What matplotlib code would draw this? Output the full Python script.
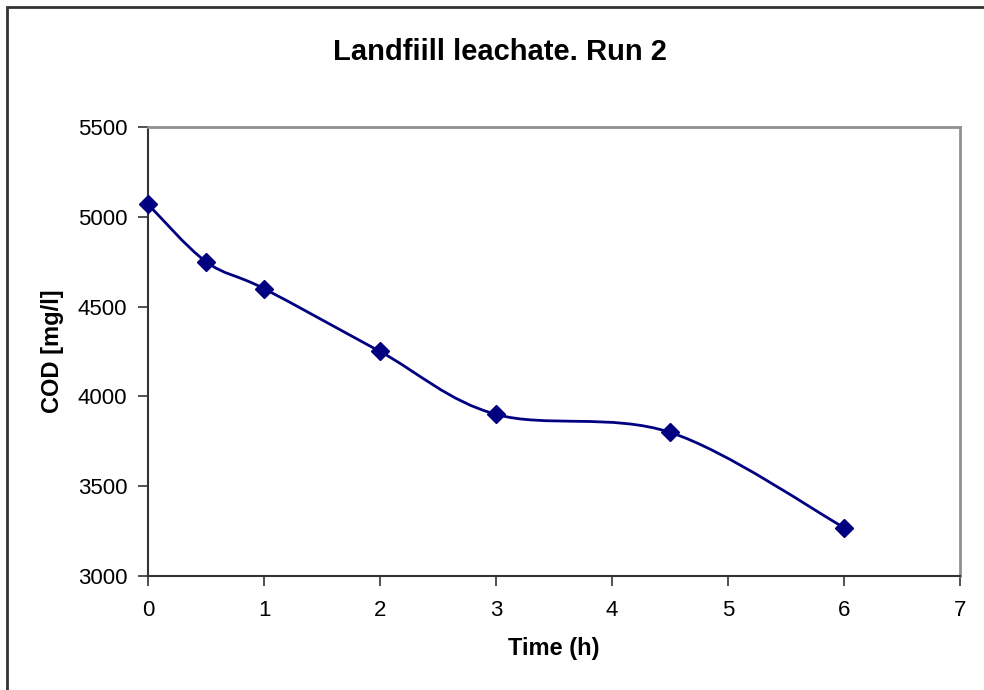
import numpy as np
import matplotlib
matplotlib.use("Agg")
import matplotlib.pyplot as plt
from matplotlib.path import Path
from matplotlib.patches import PathPatch, Rectangle

time_h = [0, 0.5, 1, 2, 3, 4.5, 6]
cod = [5070, 4750, 4600, 4250, 3900, 3800, 3270]
x_ticks = [0, 1, 2, 3, 4, 5, 6, 7]
y_ticks = [3000, 3500, 4000, 4500, 5000, 5500]

plt.rcParams['font.family'] = ['Liberation Sans', 'DejaVu Sans']

fig = plt.figure(figsize=(9.84, 6.9), dpi=100)
ax = fig.add_axes([148/984, 1-576/690, (960-148)/984, (576-127)/690])

navy = '#000080'

# Excel-like smoothed line (cubic Bezier, Catmull-Rom control points)
P = np.column_stack([time_h, cod]).astype(float)
n = len(P)
verts = [tuple(P[0])]
codes = [Path.MOVETO]
for i in range(n - 1):
    p0 = P[i - 1] if i > 0 else P[i]
    p1 = P[i]
    p2 = P[i + 1]
    p3 = P[i + 2] if i + 2 < n else P[i + 1]
    c1 = p1 + (p2 - p0) / 6.0
    c2 = p2 - (p3 - p1) / 6.0
    verts += [tuple(c1), tuple(c2), tuple(p2)]
    codes += [Path.CURVE4] * 3
ax.add_patch(PathPatch(Path(verts, codes), facecolor='none', edgecolor=navy, lw=2, zorder=3))
ax.plot(time_h, cod, linestyle='none', marker='D', markersize=9, color=navy, zorder=4,
        clip_on=False)

ax.set_xlim(0, 7)
ax.set_ylim(3000, 5500)
ax.set_xticks(x_ticks)
ax.set_yticks(y_ticks)
ax.tick_params(axis='both', labelsize=16, length=7, width=1.2, color='#333333', direction='out')
ax.tick_params(axis='x', pad=10)
ax.tick_params(axis='y', pad=8)
for s in ['left', 'bottom']:
    ax.spines[s].set_color('#333333')
    ax.spines[s].set_linewidth(1.5)
for s in ['top', 'right']:
    ax.spines[s].set_color('#909090')
    ax.spines[s].set_linewidth(2)

ax.set_xlabel('Time (h)', fontsize=17, fontweight='bold', labelpad=12)
ax.set_ylabel('COD [mg/l]', fontsize=17, fontweight='bold', labelpad=10)
fig.text(500/984, 1-52/690, 'Landfiill leachate. Run 2', fontsize=21, fontweight='bold',
         ha='center', va='center')

# figure border (top & left visible)
fig.add_artist(Rectangle((7/984, -0.05), 1.2, 1-7/690+0.05, transform=fig.transFigure,
                         facecolor='none', edgecolor='#333333', lw=2))

fig.savefig('out.png', dpi=100)
